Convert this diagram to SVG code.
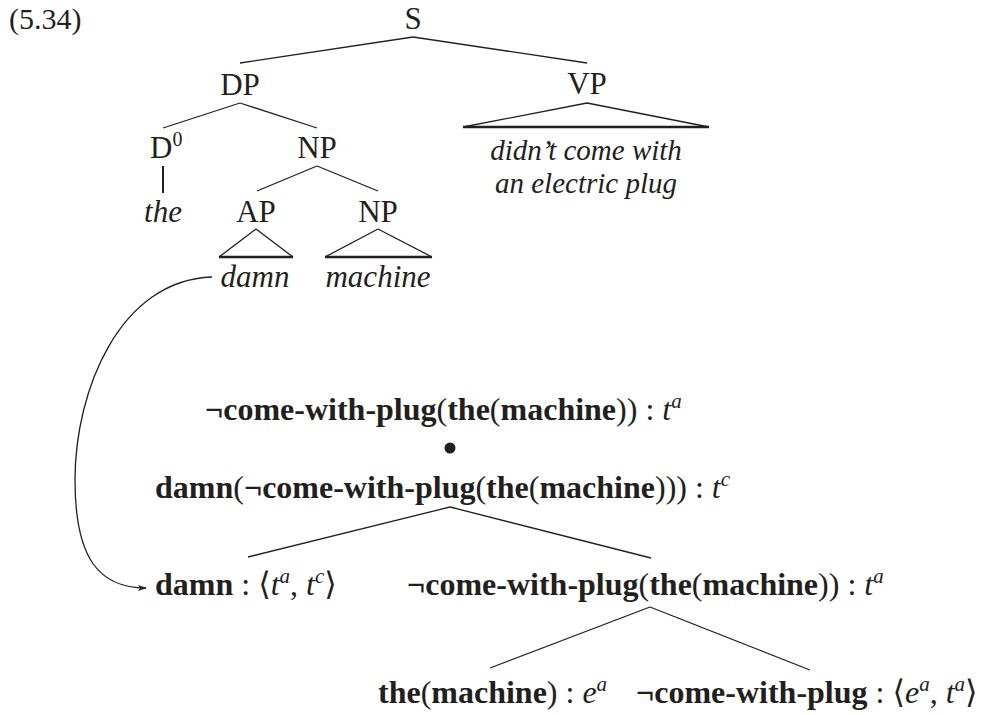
<svg xmlns="http://www.w3.org/2000/svg" width="987" height="715" viewBox="0 0 987 715">
<style>
text{font-family:"Liberation Serif","DejaVu Serif",serif;fill:#231f20}
.lab{font-size:31px;text-anchor:middle}
.it{font-size:31px;font-style:italic;text-anchor:middle}
.it2{font-size:29px;font-style:italic;text-anchor:middle}
.f{font-size:32px}
.b{font-weight:bold}
.i{font-style:italic}
.sup{font-style:italic;font-size:21px}
.ln{stroke:#231f20;stroke-width:1.3;fill:none}
.base{stroke:#231f20;stroke-width:2.6;fill:none}
</style>
<defs>
<marker id="ah" viewBox="0 0 10 10" refX="9" refY="5" markerWidth="9" markerHeight="9" markerUnits="userSpaceOnUse" orient="auto">
<path d="M0,1.5 L10,5 L0,8.5 L2.5,5 Z" fill="#231f20"/>
</marker>
</defs>
<text x="9" y="29" style="font-size:30px">(5.34)</text>
<g id="connectors">
<path class="ln" d="M413,37 L240,63"/>
<path class="ln" d="M413,37 L587,63"/>
<path class="ln" d="M240,103 L163,128"/>
<path class="ln" d="M240,103 L317,128"/>
<path class="base" d="M163,166 L163,193" style="stroke-width:2"/>
<path class="ln" d="M317,166 L257,191"/>
<path class="ln" d="M317,166 L378,191"/>
<path class="ln" d="M256,229 L219,257 M256,229 L293,257"/>
<path class="base" d="M219,257 L293,257"/>
<path class="ln" d="M378,229 L325,257 M378,229 L432,257"/>
<path class="base" d="M325,257 L432,257"/>
<path class="ln" d="M587,103 L463,127 M587,103 L709,127"/>
<path class="base" d="M463,127 L709,127"/>
<path class="ln" d="M212,277 C120,280 75,390 75,480 C75,560 100,588 146,588" marker-end="url(#ah)"/>
<path class="ln" d="M450,507 L248,557"/>
<path class="ln" d="M450,507 L651,558"/>
<path class="ln" d="M650,607 L490,668"/>
<path class="ln" d="M650,607 L810,670"/>
</g>
<g id="n-S"><text class="lab" x="413" y="29">S</text></g>
<g id="n-DP"><text class="lab" x="240" y="95">DP</text></g>
<g id="n-VP"><text class="lab" x="587" y="94">VP</text></g>
<g id="n-D0"><text x="150" y="158" style="font-size:31px">D<tspan dy="-12" style="font-size:20px">0</tspan></text></g>
<g id="n-NP1"><text class="lab" x="317" y="158">NP</text></g>
<g id="n-the"><text class="it" x="163" y="222">the</text></g>
<g id="n-AP"><text class="lab" x="256" y="222">AP</text></g>
<g id="n-NP2"><text class="lab" x="378" y="222">NP</text></g>
<g id="n-damn"><text class="it" x="255" y="287">damn</text></g>
<g id="n-machine"><text class="it" x="378" y="287">machine</text></g>
<g id="n-vpText"><text class="it2" x="586" y="160">didn’t come with</text><text class="it2" x="586" y="193">an electric plug</text></g>
<g id="n-f1"><text class="f" x="205" y="420"><tspan class="b">¬come-with-plug</tspan>(<tspan class="b">the</tspan>(<tspan class="b">machine</tspan>)) : <tspan class="i">t</tspan><tspan class="sup" dy="-12">a</tspan></text></g>
<g id="n-bullet"><circle cx="450" cy="448" r="5.5" fill="#231f20"/></g>
<g id="n-f2"><text class="f" x="155" y="498"><tspan class="b">damn</tspan>(<tspan class="b">¬come-with-plug</tspan>(<tspan class="b">the</tspan>(<tspan class="b">machine</tspan>))) : <tspan class="i">t</tspan><tspan class="sup" dy="-12">c</tspan></text></g>
<g id="n-f3"><text class="f" x="155" y="595"><tspan class="b">damn</tspan> : ⟨<tspan class="i">t</tspan><tspan class="sup" dy="-12">a</tspan><tspan dy="12">, </tspan><tspan class="i">t</tspan><tspan class="sup" dy="-12">c</tspan><tspan dy="12">⟩</tspan></text></g>
<g id="n-f4"><text class="f" x="407" y="595"><tspan class="b">¬come-with-plug</tspan>(<tspan class="b">the</tspan>(<tspan class="b">machine</tspan>)) : <tspan class="i">t</tspan><tspan class="sup" dy="-12">a</tspan></text></g>
<g id="n-f5"><text class="f" x="378" y="703"><tspan class="b">the</tspan>(<tspan class="b">machine</tspan>) : <tspan class="i">e</tspan><tspan class="sup" dy="-12">a</tspan></text></g>
<g id="n-f6"><text class="f" x="636" y="703"><tspan class="b">¬come-with-plug</tspan> : ⟨<tspan class="i">e</tspan><tspan class="sup" dy="-12">a</tspan><tspan dy="12">, </tspan><tspan class="i">t</tspan><tspan class="sup" dy="-12">a</tspan><tspan dy="12">⟩</tspan></text></g>
</svg>
